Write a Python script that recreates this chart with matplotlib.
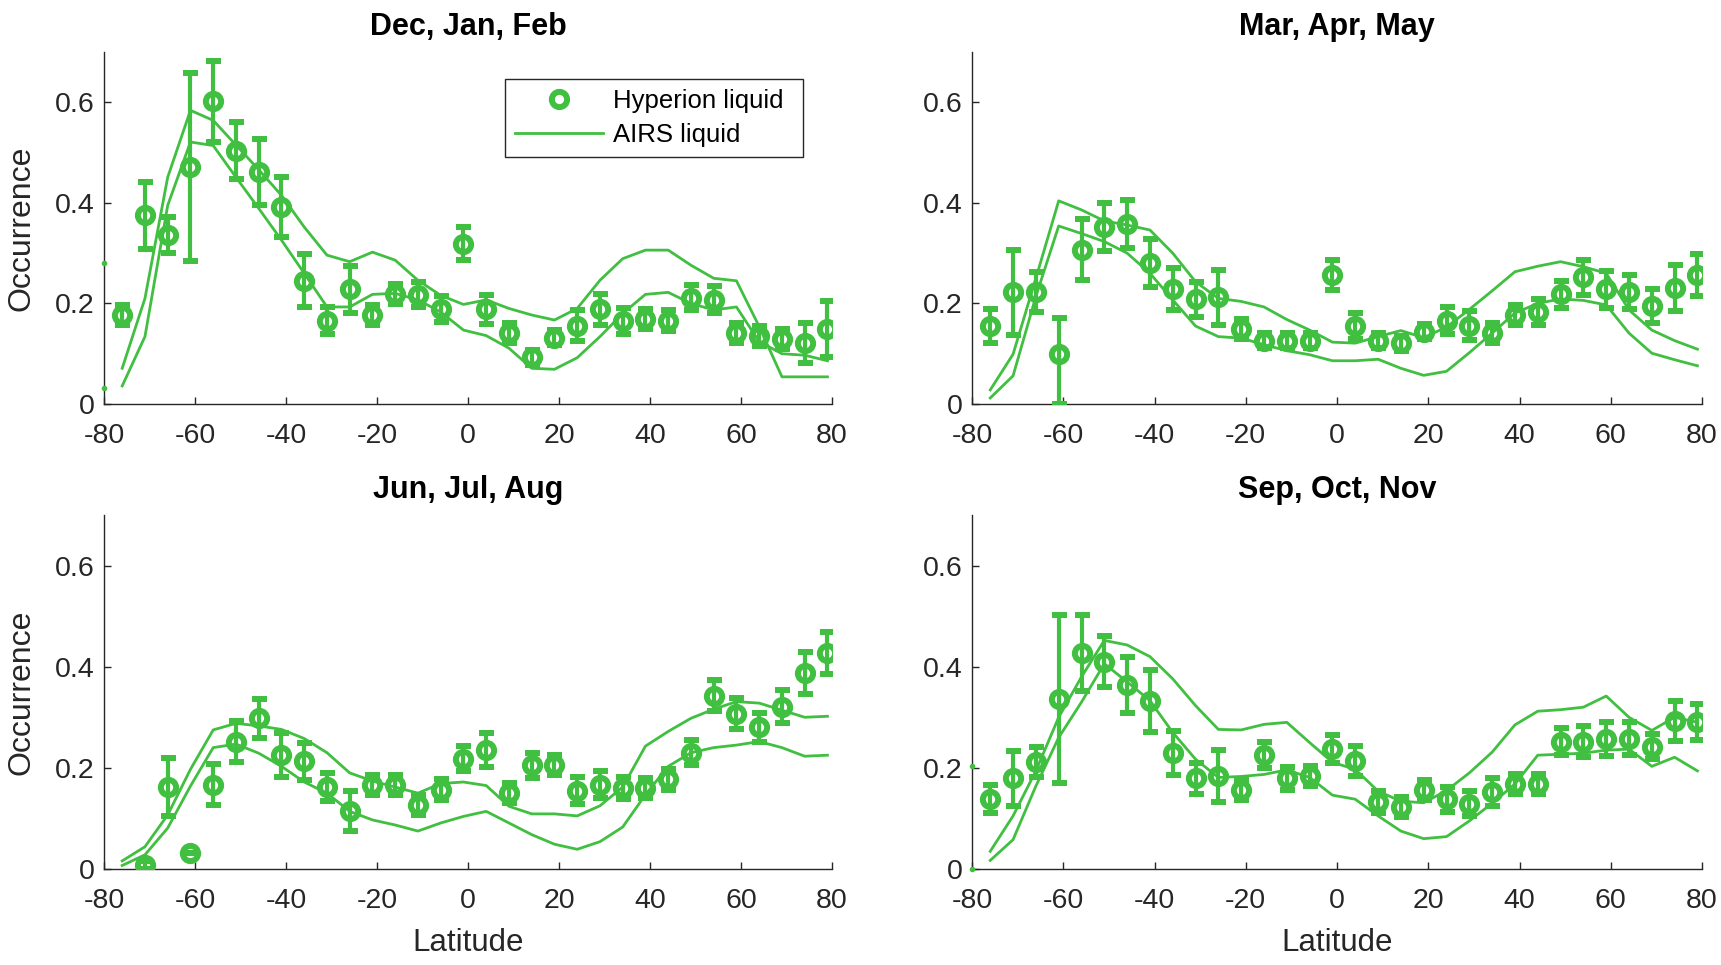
import numpy as np
import matplotlib
matplotlib.use("Agg")
import matplotlib.pyplot as plt
from matplotlib.lines import Line2D

plt.rcParams['font.family'] = ['Liberation Sans', 'DejaVu Sans']
plt.rcParams['axes.unicode_minus'] = False

GREEN = '#40BF40'
DARK = '#262626'

lat = [-76, -71, -66, -61, -56, -51, -46, -41, -36, -31, -26, -21, -16, -11, -6, -1,
       4, 9, 14, 19, 24, 29, 34, 39, 44, 49, 54, 59, 64, 69, 74, 79]

titles = ['Dec, Jan, Feb', 'Mar, Apr, May', 'Jun, Jul, Aug', 'Sep, Oct, Nov']

# Hyperion liquid occurrence and error
djf_hyp = [0.177, 0.375, 0.336, 0.471, 0.602, 0.504, 0.461, 0.392, 0.245, 0.166, 0.228, 0.177,
           0.218, 0.217, 0.189, 0.319, 0.188, 0.142, 0.093, 0.132, 0.156, 0.188, 0.165, 0.169,
           0.166, 0.211, 0.207, 0.142, 0.136, 0.130, 0.121, 0.149]
djf_err = [0.02, 0.067, 0.035, 0.187, 0.08, 0.056, 0.066, 0.06, 0.053, 0.027, 0.047, 0.02,
           0.02, 0.025, 0.025, 0.032, 0.028, 0.02, 0.015, 0.015, 0.03, 0.03, 0.025, 0.02,
           0.02, 0.025, 0.027, 0.02, 0.02, 0.02, 0.04, 0.056]
mam_hyp = [0.155, 0.222, 0.222, 0.099, 0.307, 0.352, 0.358, 0.28, 0.228, 0.208, 0.212, 0.149,
           0.126, 0.126, 0.126, 0.257, 0.155, 0.126, 0.121, 0.144, 0.166, 0.156, 0.142, 0.177,
           0.183, 0.218, 0.252, 0.228, 0.223, 0.195, 0.23, 0.257]
mam_err = [0.033, 0.085, 0.04, 0.072, 0.06, 0.047, 0.048, 0.048, 0.042, 0.034, 0.054, 0.02,
           0.015, 0.015, 0.015, 0.03, 0.025, 0.015, 0.015, 0.015, 0.027, 0.028, 0.02, 0.02,
           0.025, 0.027, 0.035, 0.037, 0.034, 0.033, 0.046, 0.042]
mam_err_low = {3: 0.099}   # asymmetric lower error (bar reaches zero)
jja_hyp = [np.nan, 0.008, 0.162, 0.031, 0.167, 0.252, 0.298, 0.225, 0.213, 0.162, 0.115, 0.166,
           0.166, 0.127, 0.157, 0.218, 0.235, 0.15, 0.205, 0.205, 0.155, 0.167, 0.16, 0.16,
           0.177, 0.23, 0.343, 0.307, 0.28, 0.321, 0.388, 0.427]
jja_err = [np.nan, 0.008, 0.058, 0.0, 0.04, 0.041, 0.038, 0.043, 0.037, 0.027, 0.04, 0.02,
           0.02, 0.02, 0.02, 0.025, 0.033, 0.02, 0.025, 0.02, 0.027, 0.027, 0.022, 0.02,
           0.02, 0.025, 0.03, 0.031, 0.028, 0.032, 0.042, 0.042]
son_hyp = [0.139, 0.179, 0.212, 0.337, 0.427, 0.41, 0.364, 0.332, 0.229, 0.179, 0.184, 0.156,
           0.225, 0.179, 0.184, 0.237, 0.213, 0.133, 0.122, 0.156, 0.138, 0.129, 0.152, 0.168,
           0.168, 0.252, 0.252, 0.257, 0.258, 0.242, 0.293, 0.291]
son_err = [0.028, 0.054, 0.03, 0.166, 0.075, 0.05, 0.055, 0.061, 0.043, 0.03, 0.052, 0.02,
           0.026, 0.022, 0.02, 0.027, 0.03, 0.022, 0.02, 0.02, 0.025, 0.025, 0.027, 0.02,
           0.02, 0.027, 0.03, 0.034, 0.032, 0.025, 0.04, 0.035]

# AIRS liquid occurrence (two curves per season)
djf_airs_a = [0.071, 0.21, 0.451, 0.584, 0.564, 0.515, 0.466, 0.415, 0.352, 0.296, 0.283, 0.302,
              0.286, 0.246, 0.216, 0.198, 0.207, 0.19, 0.177, 0.167, 0.19, 0.246, 0.289, 0.306,
              0.306, 0.276, 0.25, 0.245, 0.154, 0.054, 0.054, 0.054]
djf_airs_b = [0.036, 0.134, 0.395, 0.521, 0.514, 0.451, 0.389, 0.326, 0.26, 0.193, 0.193, 0.218,
              0.22, 0.207, 0.183, 0.147, 0.136, 0.111, 0.071, 0.069, 0.092, 0.134, 0.18, 0.218,
              0.222, 0.2, 0.187, 0.193, 0.124, 0.1, 0.097, 0.086]
mam_airs_a = [0.028, 0.099, 0.25, 0.404, 0.386, 0.364, 0.356, 0.346, 0.3, 0.243, 0.21, 0.204,
              0.193, 0.168, 0.147, 0.123, 0.121, 0.134, 0.146, 0.132, 0.153, 0.188, 0.225, 0.263,
              0.274, 0.283, 0.273, 0.26, 0.187, 0.147, 0.126, 0.109]
mam_airs_b = [0.012, 0.056, 0.214, 0.354, 0.339, 0.323, 0.3, 0.26, 0.207, 0.155, 0.134, 0.131,
              0.118, 0.106, 0.098, 0.086, 0.086, 0.089, 0.071, 0.057, 0.065, 0.102, 0.141, 0.181,
              0.2, 0.209, 0.206, 0.197, 0.141, 0.101, 0.088, 0.076]
jja_airs_a = [0.016, 0.044, 0.107, 0.197, 0.275, 0.288, 0.283, 0.276, 0.258, 0.23, 0.19, 0.174,
              0.162, 0.15, 0.169, 0.172, 0.165, 0.124, 0.109, 0.109, 0.105, 0.125, 0.162, 0.243,
              0.272, 0.298, 0.316, 0.331, 0.328, 0.314, 0.3, 0.302]
jja_airs_b = [0.007, 0.028, 0.081, 0.164, 0.24, 0.247, 0.229, 0.203, 0.172, 0.15, 0.114, 0.097,
              0.087, 0.075, 0.091, 0.104, 0.114, 0.091, 0.068, 0.049, 0.039, 0.054, 0.083, 0.147,
              0.203, 0.23, 0.24, 0.245, 0.252, 0.24, 0.223, 0.225]
son_airs_a = [0.035, 0.105, 0.194, 0.30, 0.38, 0.452, 0.443, 0.42, 0.376, 0.323, 0.276, 0.275,
              0.286, 0.29, 0.25, 0.211, 0.197, 0.154, 0.134, 0.131, 0.155, 0.19, 0.231, 0.285,
              0.312, 0.315, 0.32, 0.342, 0.3, 0.274, 0.3, 0.29]
son_airs_b = [0.017, 0.058, 0.164, 0.26, 0.33, 0.406, 0.37, 0.333, 0.27, 0.217, 0.181, 0.183,
              0.187, 0.196, 0.181, 0.146, 0.138, 0.105, 0.075, 0.06, 0.064, 0.095, 0.13, 0.168,
              0.225, 0.227, 0.229, 0.235, 0.237, 0.203, 0.221, 0.194]

# small stray marks at the left axis edge
edge_lat = -80
djf_edge = [0.28, 0.032]
mam_edge = []
jja_edge = []
son_edge = [0.203, 0.0]

hyp = [djf_hyp, mam_hyp, jja_hyp, son_hyp]
errs = [djf_err, mam_err, jja_err, son_err]
low_over = [{}, mam_err_low, {}, {}]
airs_a = [djf_airs_a, mam_airs_a, jja_airs_a, son_airs_a]
airs_b = [djf_airs_b, mam_airs_b, jja_airs_b, son_airs_b]
edges = [djf_edge, mam_edge, jja_edge, son_edge]

xticks = [-80, -60, -40, -20, 0, 20, 40, 60, 80]
yticks = [0, 0.2, 0.4, 0.6]
ytick_labels = ['0', '0.2', '0.4', '0.6']

MS, MEW = 11.0, 4.3

W, H = 1721, 965
fig = plt.figure(figsize=(W / 100, H / 100), dpi=100)
rects = [(104, 52, 832, 404), (972, 52, 1702, 404),
         (104, 515, 832, 869), (972, 515, 1702, 869)]

for i, (x0, y0, x1, y1) in enumerate(rects):
    ax = fig.add_axes([x0 / W, 1 - y1 / H, (x1 - x0) / W, (y1 - y0) / H])
    ax.plot(lat, airs_a[i], color=GREEN, lw=2.0, zorder=2)
    ax.plot(lat, airs_b[i], color=GREEN, lw=2.0, zorder=2)
    y = np.array(hyp[i], dtype=float)
    e = np.array(errs[i], dtype=float)
    lo = np.minimum(e, y)
    for k, v in low_over[i].items():
        lo[k] = v
    ax.errorbar(lat, y, yerr=[lo, e], fmt='o', color=GREEN, ms=MS, mew=MEW,
                mfc='none', mec=GREEN, elinewidth=3.0, capsize=5.4, capthick=3.3, zorder=3)
    if edges[i]:
        ax.plot([edge_lat] * len(edges[i]), edges[i], 'o', color=GREEN, ms=3,
                clip_on=False, zorder=4)
    ax.set_xlim(-80, 80)
    ax.set_ylim(0, 0.7)
    ax.set_xticks(xticks)
    ax.set_xticklabels([str(v) for v in xticks])
    ax.set_yticks(yticks)
    ax.set_yticklabels(ytick_labels)
    for s in ['top', 'right']:
        ax.spines[s].set_visible(False)
    for s in ['left', 'bottom']:
        ax.spines[s].set_color(DARK)
        ax.spines[s].set_linewidth(1.0)
    ax.tick_params(direction='in', length=5, width=1, colors=DARK, labelsize=20.5)
    ax.tick_params(axis='x', pad=14)
    ax.tick_params(axis='y', pad=7)
    ax.set_title(titles[i], fontsize=22, fontweight='bold', pad=12)
    if i % 2 == 0:
        ax.set_ylabel('Occurrence', fontsize=23, color=DARK, labelpad=13)
    if i >= 2:
        ax.set_xlabel('Latitude', fontsize=22.5, color=DARK, labelpad=10)
    if i == 0:
        handles = [Line2D([], [], ls='none', marker='o', ms=MS, mew=MEW, mfc='none', mec=GREEN),
                   Line2D([], [], color=GREEN, lw=2.0)]
        leg = ax.legend(handles, ['Hyperion liquid', 'AIRS liquid'], loc='upper left',
                        bbox_to_anchor=(0.551, 0.70, 0.409, 0.223), mode='expand',
                        borderaxespad=0, fontsize=18.5,
                        frameon=True, fancybox=False, framealpha=1, edgecolor=DARK,
                        handlelength=3.4, handletextpad=0.4, borderpad=0.4,
                        labelspacing=0.36)
        leg.get_frame().set_linewidth(1.0)

fig.savefig('out.png', dpi=100)
